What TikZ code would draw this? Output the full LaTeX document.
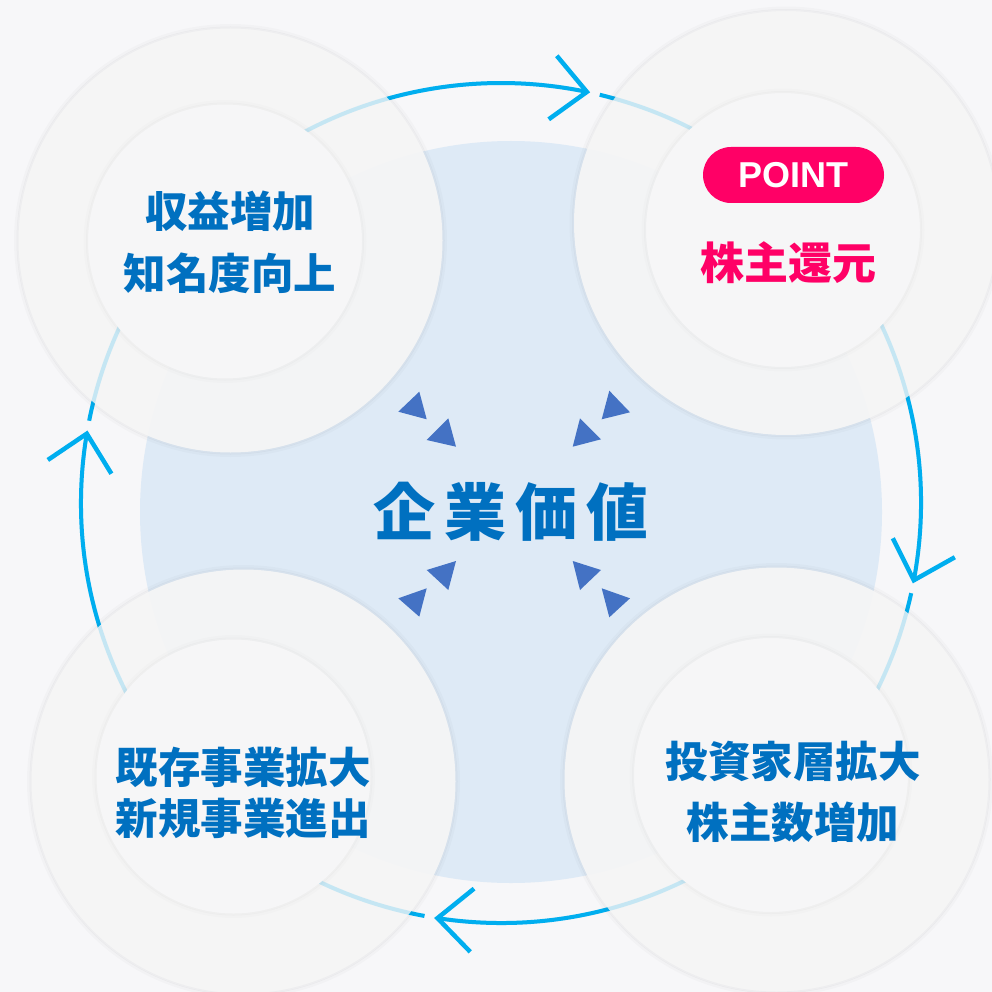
\documentclass[tikz,border=0pt]{standalone}
\usepackage{fontspec}
\setmainfont{Liberation Sans}
\newfontfamily\jpfont{Noto Sans CJK JP}
\usetikzlibrary{calc}
\definecolor{bgc}{HTML}{F7F7F9}
\definecolor{hubc}{HTML}{DEEAF6}
\definecolor{ringc}{HTML}{00AEEF}
\definecolor{discc}{HTML}{F5F5F5}
\definecolor{innerc}{HTML}{F6F6F7}
\definecolor{txtc}{HTML}{0070C0}
\definecolor{pinkc}{HTML}{FF0066}
\definecolor{tric}{HTML}{4472C4}
\begin{document}
\begin{tikzpicture}[x=1pt,y=-1pt,
  outerdisc/.style={circle, minimum size=424pt, inner sep=0pt, fill=discc, fill opacity=0.93},
  innerdisc/.style={circle, minimum size=274pt, inner sep=0pt, fill=innerc},
  softrimA/.style={draw=black, draw opacity=0.035, line width=2pt},
  softrimB/.style={draw=black, draw opacity=0.018, line width=3pt},
  cyclabel/.style={align=center, text=txtc, inner sep=0pt},
  ringline/.style={draw=ringc, line width=4pt},
  ringghost/.style={draw=ringc, draw opacity=0.13, line width=4pt},
  chev/.style={draw=ringc, line width=4.5pt, line join=miter},
  tri/.style={fill=tric},
  pill/.style={rectangle, rounded corners=28pt, minimum width=181pt, minimum height=56pt, inner sep=0pt, fill=pinkc, text=white, font=\bfseries\fontsize{36}{40}\selectfont}
]
\useasboundingbox (0,0) rectangle (992,992);
\fill[bgc] (0,0) rectangle (992,992);

% central hub
\node[circle, fill=hubc, minimum size=742pt, inner sep=0pt] (hub) at (511,512) {};

% cycle ring
\coordinate (ring) at (501,503);
\coordinate (tipT) at ($(ring)+(-78.2:420)$);
\coordinate (tipR) at ($(ring)+(10.6:420)$);
\coordinate (tipB) at ($(ring)+(98.7:420)$);
\coordinate (tipL) at ($(ring)+(-170.5:420)$);

\foreach \st/\en in {-168.7/-78.2, -76.4/10.6, 12.4/98.7, 100.5/189.5}
  \draw[ringline] (ring) ++(\st:420) arc[start angle=\st, end angle=\en, radius=420];

\draw[chev] (tipT) ++(230.2:47) -- (tipT) -- ++(144.3:47);
\draw[chev] (tipR) ++(243.4:47) -- (tipR) -- ++(330.7:47);
\draw[chev] (tipB) ++(321.1:47) -- (tipB) -- ++(45.8:47);
\draw[chev] (tipL) ++(146:47) -- (tipL) -- ++(58.4:47);

% outer discs
\node[outerdisc] (oTL) at (230.5,240.5) {};
\node[outerdisc] (oTR) at (786,223) {};
\node[outerdisc] (oBL) at (243.5,781.5) {};
\node[outerdisc] (oBR) at (776.5,779.5) {};
\foreach \n in {oTL,oTR,oBL,oBR}{
  \draw[softrimA] (\n.center) circle[radius=213];
  \draw[softrimB] (\n.center) circle[radius=215];
}

% ring seen through the translucent discs
\foreach \st/\en in {-168.7/-78.2, -76.4/10.6, 12.4/98.7, 100.5/189.5}
  \draw[ringghost] (ring) ++(\st:420) arc[start angle=\st, end angle=\en, radius=420];

% inner discs
\node[innerdisc] (iTL) at (225,241.5) {};
\node[innerdisc] (iTR) at (783,230) {};
\node[innerdisc] (iBL) at (233.5,776.5) {};
\node[innerdisc] (iBR) at (771,775) {};
\foreach \n in {iTL,iTR,iBL,iBR}{
  \draw[softrimA, draw opacity=0.025] (\n.center) circle[radius=138];
  \draw[softrimB, draw opacity=0.012] (\n.center) circle[radius=140];
}

% labels
\node[cyclabel, font=\jpfont\bfseries\fontsize{42.5}{62}\selectfont] (tTL) at (230,242) {収益増加\\知名度向上};
\node[cyclabel, font=\jpfont\bfseries\fontsize{42.5}{51}\selectfont] (tBL) at (243,793) {既存事業拡大\\新規事業進出};
\node[cyclabel, font=\jpfont\bfseries\fontsize{42.5}{61.5}\selectfont] (tBR) at (793,792) {投資家層拡大\\株主数増加};
\node[pill] (point) at (793.5,175) {POINT};
\node[inner sep=0pt, text=pinkc, font=\jpfont\bfseries\fontsize{44}{50}\selectfont] (tTR) at (788.5,262.5) {株主還元};

\node[inner sep=0pt, text=txtc, font=\jpfont\bfseries\fontsize{62}{70}\selectfont] (hubtext) at (511,512) {企\kern9pt業\kern9pt価\kern9pt値};

% triangles pointing to the centre
\fill[tri] (398.3,411.7) -- (419.3,391.7) -- (426.7,419.3) -- cycle;
\fill[tri] (426.7,440) -- (448.3,418.3) -- (456,446.7) -- cycle;
\fill[tri] (609.3,390.7) -- (630,412.3) -- (601.7,419.3) -- cycle;
\fill[tri] (580,418.3) -- (601,439.3) -- (572.7,446.7) -- cycle;
\fill[tri] (426.7,570) -- (456,561) -- (448.3,590) -- cycle;
\fill[tri] (398.3,598.3) -- (426.7,588.3) -- (419.3,616.7) -- cycle;
\fill[tri] (572.7,561) -- (601,570) -- (580,590) -- cycle;
\fill[tri] (601.7,588.3) -- (630,598.3) -- (609.3,617.3) -- cycle;
\end{tikzpicture}
\end{document}
